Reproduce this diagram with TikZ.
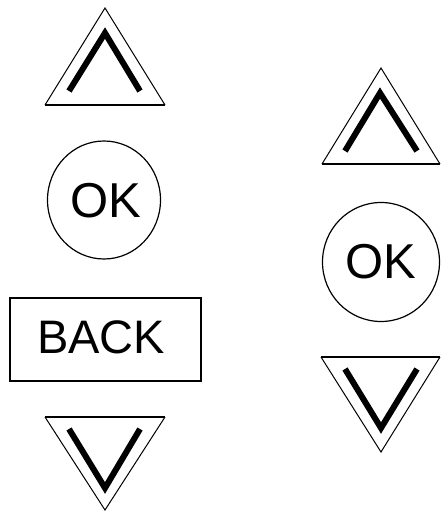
\documentclass[tikz,border=0pt]{standalone}
\usepackage{fontspec}
\setmainfont{Liberation Sans}
\usetikzlibrary{shapes.geometric}
\begin{document}
\begin{tikzpicture}[x=1pt,y=-1pt,
  tri/.style={draw=black,line width=1pt,line join=miter},
  base/.style={draw=black,line width=2pt},
  chev/.style={draw=black,line width=6pt,line join=miter},
  ring/.style={draw=black,line width=1.2pt},
  lbl/.style={inner sep=0pt,anchor=base,font=\fontsize{49}{49}\selectfont}]
\useasboundingbox (0,0) rectangle (440,512);
% left column: up
\coordinate (lua) at (105,8);
\coordinate (lul) at (45,105);
\coordinate (lur) at (165,105);
\draw[tri] (lul) -- (lua) -- (lur);
\draw[base] (lul) -- (lur);
\draw[chev] (69,91) -- (105,33) -- (140,91);
% left OK
\node[ring,ellipse,minimum width=113pt,minimum height=118pt,inner sep=0pt] (lok) at (104,200) {};
\node[lbl] (loktext) at (106,217) {OK};
% BACK
\node[draw=black,line width=2pt,minimum width=191pt,minimum height=83pt,inner sep=0pt] (back) at (105,339) {};
\node[lbl,font=\fontsize{47}{47}\selectfont] (backtext) at (101,353) {BACK};
% left down
\coordinate (lda) at (105,510);
\coordinate (ldl) at (45,417);
\coordinate (ldr) at (165,417);
\draw[tri] (ldl) -- (lda) -- (ldr);
\draw[base] (ldl) -- (ldr);
\draw[chev] (69,429) -- (105,488) -- (140,429);
% right up
\coordinate (rua) at (381,68);
\coordinate (rul) at (322,164);
\coordinate (rur) at (440,164);
\draw[tri] (rul) -- (rua) -- (rur);
\draw[base] (rul) -- (rur);
\draw[chev] (345,151) -- (380,93) -- (417,151);
% right OK
\node[ring,ellipse,minimum width=117pt,minimum height=119pt,inner sep=0pt] (rok) at (381,262) {};
\node[lbl] (roktext) at (381,278) {OK};
% right down
\coordinate (rda) at (381,452);
\coordinate (rdl) at (321,357);
\coordinate (rdr) at (440,357);
\draw[tri] (rdl) -- (rda) -- (rdr);
\draw[base] (rdl) -- (rdr);
\draw[chev] (345,369) -- (381,428) -- (417,369);
\end{tikzpicture}
\end{document}
